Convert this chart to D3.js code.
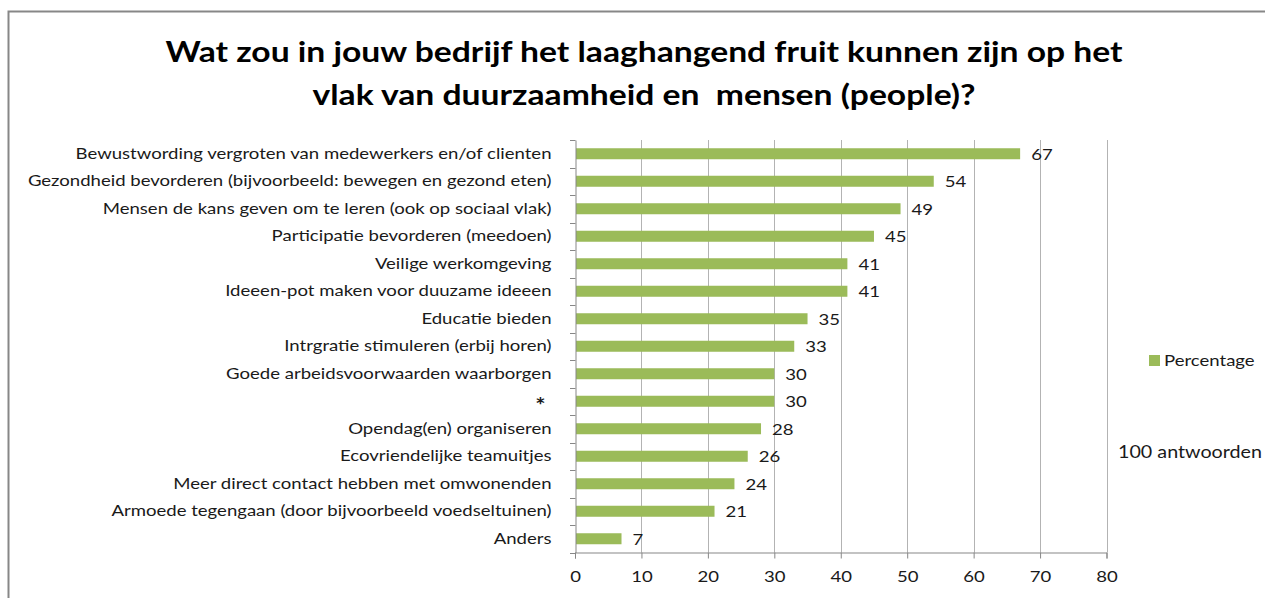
<!DOCTYPE html>
<html>
<head>
<meta charset="utf-8">
<script src="https://cdn.jsdelivr.net/npm/d3@7"></script>
<style>
  html, body { margin: 0; padding: 0; background: #fff; }
  svg { display: block; }
  text { font-family: Lato, "Open Sans", sans-serif; }
</style>
</head>
<body>
<script>
const categories = [
  "Bewustwording vergroten van medewerkers en/of clienten",
  "Gezondheid bevorderen (bijvoorbeeld: bewegen en gezond eten)",
  "Mensen de kans geven om te leren (ook op sociaal vlak)",
  "Participatie bevorderen (meedoen)",
  "Veilige werkomgeving",
  "Ideeen-pot maken voor duuzame ideeen",
  "Educatie bieden",
  "Intrgratie stimuleren (erbij horen)",
  "Goede arbeidsvoorwaarden waarborgen",
  "*",
  "Opendag(en) organiseren",
  "Ecovriendelijke teamuitjes",
  "Meer direct contact hebben met omwonenden",
  "Armoede tegengaan (door bijvoorbeeld voedseltuinen)",
  "Anders"
];
const values = [67, 54, 49, 45, 41, 41, 35, 33, 30, 30, 28, 26, 24, 21, 7];
const xTicks = [0, 10, 20, 30, 40, 50, 60, 70, 80];
const titleLines = [
  "Wat zou in jouw bedrijf het laaghangend fruit kunnen zijn op het",
  "vlak van duurzaamheid en\u00a0\u00a0mensen (people)?"
];
const seriesName = "Percentage";
const note = "100 antwoorden";

const W = 1265, H = 598;
const S = 1.16; // horizontal text stretch
const svg = d3.select("body").append("svg").attr("width", W).attr("height", H);

function place(sel, x, y) {
  return sel.attr("transform", (d, i) => {
    const xx = typeof x === "function" ? x(d, i) : x;
    const yy = typeof y === "function" ? y(d, i) : y;
    return `translate(${xx},${yy}) scale(${S},1)`;
  });
}
function stretchAxisText(sel) {
  sel.each(function () {
    const t = d3.select(this);
    const x0 = +t.attr("x") || 0;
    t.attr("x", x0 / S).attr("transform", `scale(${S},1)`);
  });
}

// chart border
svg.append("path")
  .attr("d", `M8.5,${H} L8.5,11.5 L${W},11.5`)
  .attr("fill", "none").attr("stroke", "#878787").attr("stroke-width", 2);

// title
svg.append("g").selectAll("text").data(titleLines).join("text")
  .call(place, 644, (d, i) => 62 + i * 43)
  .attr("text-anchor", "middle")
  .attr("font-size", 29).attr("font-weight", "bold").attr("fill", "#000")
  .text(d => d);

const x = d3.scaleLinear().domain([0, 80]).range([575, 1106.5]);
const y = d3.scaleBand().domain(categories).range([140, 552.5]).paddingInner(0.6).paddingOuter(0.3);

// gridlines
svg.append("g").selectAll("line").data(xTicks.slice(1)).join("line")
  .attr("x1", d => Math.round(x(d)) + 0.5).attr("x2", d => Math.round(x(d)) + 0.5)
  .attr("y1", 140).attr("y2", 552.5)
  .attr("stroke", "#b3b3b3").attr("stroke-width", 1);

// bars
svg.append("g").selectAll("rect").data(values).join("rect")
  .attr("x", x(0) + 1)
  .attr("y", (d, i) => y(categories[i]))
  .attr("width", d => x(d) - x(0) - 1)
  .attr("height", y.bandwidth())
  .attr("fill", "#9bbb59");

// value labels
svg.append("g").selectAll("text").data(values).join("text")
  .call(place, d => x(d) + 11, (d, i) => y(categories[i]) + y.bandwidth() / 2)
  .attr("dy", "0.36em")
  .attr("font-size", 16).attr("fill", "#1a1a1a")
  .text(d => d);

// x axis
const xAxis = svg.append("g").attr("transform", "translate(0,552.5)")
  .call(d3.axisBottom(x).tickValues(xTicks).tickSize(6).tickPadding(12));
xAxis.select(".domain").attr("stroke", "#878787");
xAxis.selectAll(".tick line").attr("stroke", "#878787");
xAxis.selectAll("text").attr("font-size", 16).attr("fill", "#1a1a1a")
  .attr("font-family", "Lato, sans-serif").call(stretchAxisText);

// y axis
const yBand = d3.scaleBand().domain(categories).range([140, 552.5]);
const yAxis = svg.append("g").attr("transform", "translate(575.5,0)")
  .call(d3.axisLeft(yBand).tickSize(0).tickPadding(24));
yAxis.select(".domain").attr("stroke", "#878787");
yAxis.selectAll("text").attr("font-size", d => d === "*" ? 21 : 16).attr("fill", "#1a1a1a")
  .attr("font-family", "Lato, sans-serif")
  .attr("font-weight", d => d === "*" ? "bold" : null)
  .attr("dy", d => d === "*" ? "0.55em" : "0.32em")
  .attr("x", d => d === "*" ? -30 : -24)
  .call(stretchAxisText);
// category separator ticks
svg.append("g").selectAll("line").data(d3.range(categories.length + 1)).join("line")
  .attr("x1", 570).attr("x2", 575.5)
  .attr("y1", i => Math.round(140 + i * yBand.step()) + 0.5)
  .attr("y2", i => Math.round(140 + i * yBand.step()) + 0.5)
  .attr("stroke", "#878787");

// legend
svg.append("rect").attr("x", 1149).attr("y", 355).attr("width", 11).attr("height", 11).attr("fill", "#9bbb59");
svg.append("text").call(place, 1164, 366).attr("font-size", 16).attr("fill", "#1a1a1a").text(seriesName);
svg.append("text").call(place, 1118, 458).attr("font-size", 17).attr("fill", "#1a1a1a").text(note);
</script>
</body>
</html>
